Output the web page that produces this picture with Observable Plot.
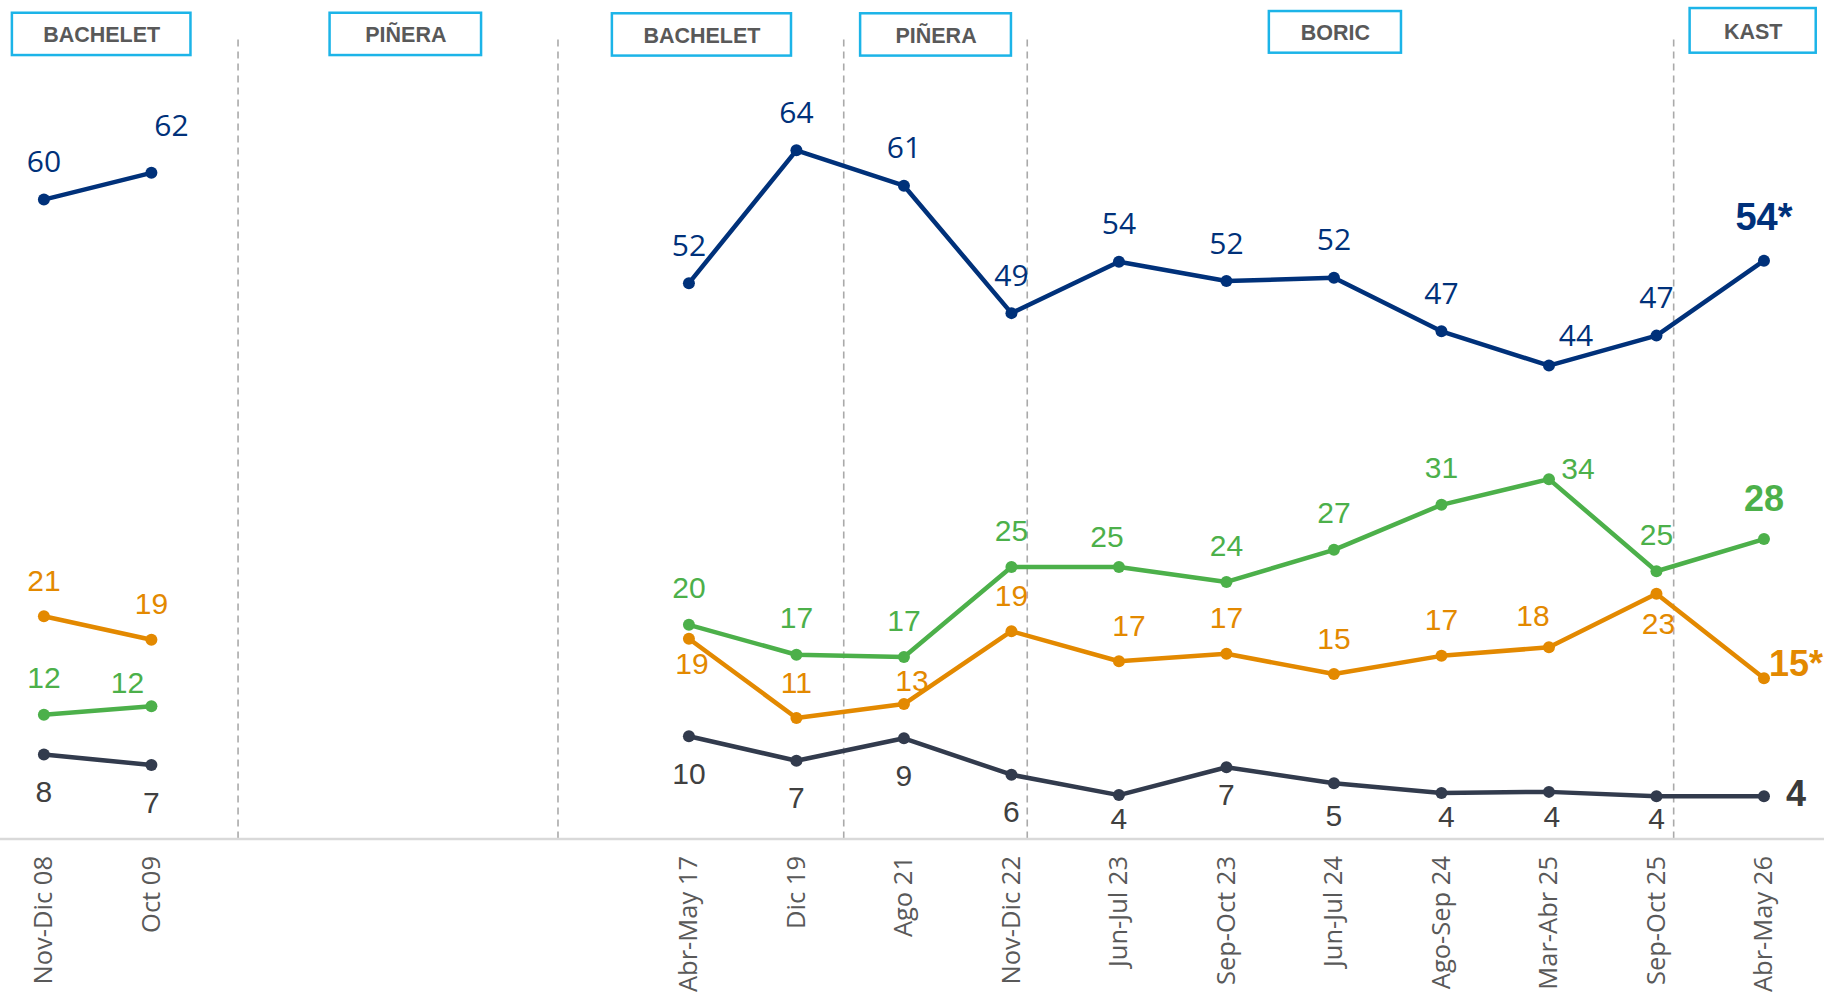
<!DOCTYPE html>
<html>
<head>
<meta charset="utf-8">
<script src="https://cdn.jsdelivr.net/npm/d3@7"></script>
<script src="https://cdn.jsdelivr.net/npm/@observablehq/plot@0.6"></script>
<style>
  html, body { margin: 0; padding: 0; background: #fff; }
  #chart svg { display: block; }
</style>
</head>
<body>
<div id="chart"></div>
<script>
// ---------------- DATA ----------------
const categories = ["Nov-Dic 08","Oct 09","Abr-May 17","Dic 19","Ago 21","Nov-Dic 22","Jun-Jul 23","Sep-Oct 23","Jun-Jul 24","Ago-Sep 24","Mar-Abr 25","Sep-Oct 25","Abr-May 26"];
// slot on the time axis (surveys 2010-2016 missing -> gap)
const slots = [0, 1, 6, 7, 8, 9, 10, 11, 12, 13, 14, 15, 16];
const segments = [0, 0, 1, 1, 1, 1, 1, 1, 1, 1, 1, 1, 1];

const serieAzul    = [59.7, 62.2, 51.9, 64.3, 61.0, 49.1, 53.9, 52.1, 52.4, 47.4, 44.2, 47.0, 54.0];
const serieVerde   = [11.6, 12.4, 20.0, 17.2, 17.0, 25.4, 25.4, 24.0, 27.0, 31.2, 33.6, 25.0, 28.0];
const serieNaranja = [20.8, 18.6, 18.7, 11.3, 12.6, 19.4, 16.6, 17.3, 15.4, 17.1, 17.9, 22.9, 15.0];
const serieGris    = [7.9, 6.9, 9.6, 7.3, 9.4, 6.0, 4.1, 6.7, 5.2, 4.3, 4.4, 4.0, 4.0];

const starredLast = ["azul", "naranja"]; // last value carries an asterisk

const periodNames = ["BACHELET", "PIÑERA", "BACHELET", "PIÑERA", "BORIC", "KAST"];
const dividerSlots = [1.806, 4.782, 7.44, 9.147, 15.16];

// ---------------- LAYOUT / STYLE ----------------
const periodBoxes = [
  {x1: -0.293, x2: 1.368, y1: 73.15, y2: 77.1},
  {x1: 2.662, x2: 4.071, y1: 73.15, y2: 77.1},
  {x1: 5.288, x2: 6.954, y1: 73.1, y2: 77.05},
  {x1: 7.597, x2: 9.0, y1: 73.1, y2: 77.05},
  {x1: 11.399, x2: 12.628, y1: 73.37, y2: 77.26},
  {x1: 15.313, x2: 16.486, y1: 73.37, y2: 77.54}
];
const colors = {azul: "#00317a", verde: "#4cb04a", naranja: "#e38900", gris: "#323b4d"};
const labelColors = {azul: "#00317a", verde: "#4cb04a", naranja: "#e38900", gris: "#404040"};
const labelFonts = {azul: "'Open Sans', sans-serif", verde: "'Liberation Sans', Arial, sans-serif", naranja: "'Liberation Sans', Arial, sans-serif", gris: "'Liberation Sans', Arial, sans-serif"};
const defaultDy = {azul: -37, verde: -36, naranja: -35, gris: 38};
const overrides = {
  "azul:1": {dx: 20, dy: -46}, "azul:10": {dx: 27, dy: -29}, "azul:12": {dy: -43, bold: true, size: 38},
  "verde:1": {dx: -24, dy: -23}, "verde:6": {dx: -12, dy: -30}, "verde:10": {dx: 29, dy: -10}, "verde:12": {dy: -40, bold: true},
  "naranja:2": {dx: 3, dy: 26}, "naranja:4": {dx: 8, dy: -23}, "naranja:6": {dx: 10, dy: -35},
  "naranja:10": {dx: -16, dy: -31}, "naranja:11": {dx: 2, dy: 31}, "naranja:12": {dx: 5, dy: -14, bold: true, anchor: "start"},
  "gris:6": {dy: 24}, "gris:7": {dy: 28}, "gris:8": {dy: 33}, "gris:9": {dx: 5, dy: 24},
  "gris:10": {dx: 3, dy: 26}, "gris:11": {dy: 23}, "gris:12": {dx: 22, dy: -2, bold: true, anchor: "start"}
};

const seriesList = [
  {key: "azul", values: serieAzul},
  {key: "verde", values: serieVerde},
  {key: "naranja", values: serieNaranja},
  {key: "gris", values: serieGris}
];

const rows = seriesList.flatMap(s => s.values.map((v, i) => ({
  serie: s.key, i, slot: slots[i], seg: segments[i], value: v,
  label: String(Math.round(v)) + (i === categories.length - 1 && starredLast.includes(s.key) ? "*" : "")
})));

const ticks = categories.map((c, i) => ({slot: slots[i], label: c}));
const headers = periodNames.map((n, i) => ({name: n, ...periodBoxes[i]}));

const marks = [];

// dashed period dividers
marks.push(Plot.ruleX(dividerSlots, {y1: 0, y2: 74.9, stroke: "#aaaaaa", strokeWidth: 1.6, strokeDasharray: "7,5"}));

// baseline
marks.push(Plot.ruleY([0], {stroke: "#d9d9d9", strokeWidth: 2.5}));

// period header boxes
marks.push(Plot.rect(headers, {x1: "x1", x2: "x2", y1: "y1", y2: "y2", fill: "white", stroke: "#1cb4e8", strokeWidth: 2.5}));
marks.push(Plot.text(headers, {
  x: d => (d.x1 + d.x2) / 2, y: d => (d.y1 + d.y2) / 2, text: "name",
  fill: "#595959", fontSize: 21.5, fontWeight: "bold", fontFamily: "'Liberation Sans', Arial, sans-serif", dy: 1
}));

// lines + dots
for (const s of seriesList) {
  const data = rows.filter(r => r.serie === s.key);
  marks.push(Plot.line(data, {x: "slot", y: "value", z: "seg", stroke: colors[s.key], strokeWidth: 4.5, strokeLinejoin: "round"}));
  marks.push(Plot.dot(data, {x: "slot", y: "value", r: 6, fill: colors[s.key], stroke: "none"}));
}

// value labels
for (const r of rows) {
  const o = overrides[r.serie + ":" + r.i] || {};
  marks.push(Plot.text([r], {
    x: "slot", y: "value", text: "label",
    dx: o.dx || 0, dy: o.dy !== undefined ? o.dy : defaultDy[r.serie],
    textAnchor: o.anchor || "middle", lineAnchor: "middle",
    fill: o.bold && r.serie === "gris" ? "#3a3a3a" : labelColors[r.serie],
    fontSize: o.size || (o.bold ? 36 : 30),
    fontWeight: o.bold ? "bold" : "normal",
    fontFamily: o.bold ? "'Liberation Sans', Arial, sans-serif" : labelFonts[r.serie]
  }));
}

// x tick labels (rotated)
marks.push(Plot.text(ticks, {
  x: "slot", frameAnchor: "bottom", text: "label", rotate: -90,
  textAnchor: "end", lineAnchor: "middle", dy: 17,
  fill: "#595959", fontSize: 25.5, fontFamily: "'Open Sans', sans-serif"
}));

const chart = Plot.plot({
  width: 1824,
  height: 992,
  marginTop: 0,
  marginBottom: 153.5,
  marginLeft: 0,
  marginRight: 0,
  x: {domain: [-0.4037, 16.563], axis: null},
  y: {domain: [0, 78.29], axis: null},
  style: {background: "white", overflow: "visible"},
  marks
});
document.getElementById("chart").appendChild(chart);
</script>
</body>
</html>
